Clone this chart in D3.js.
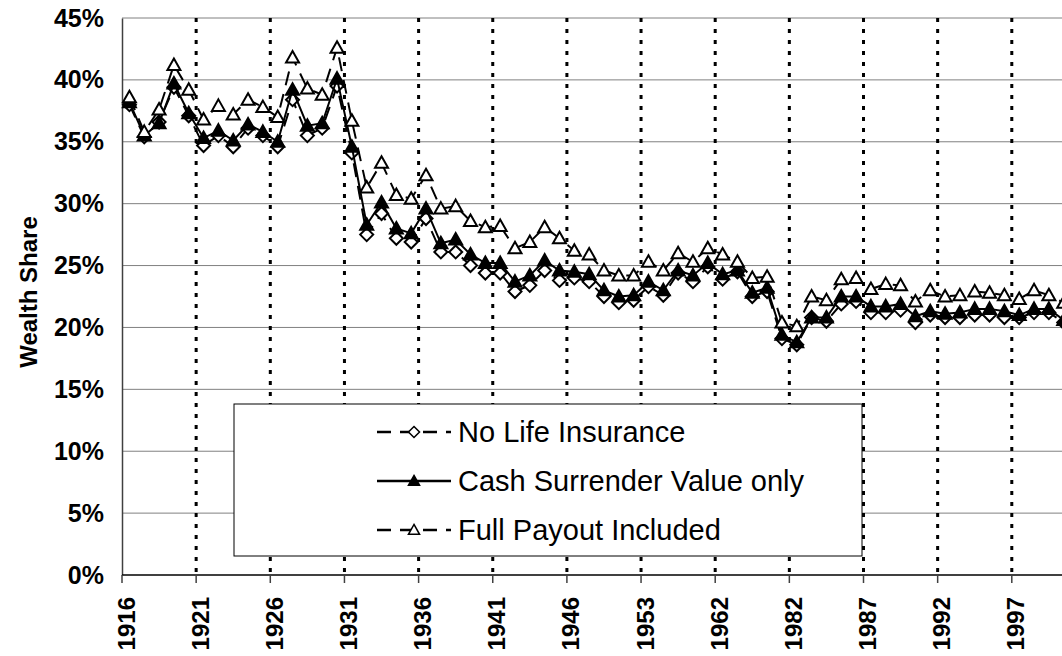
<!DOCTYPE html>
<html>
<head>
<meta charset="utf-8">
<script src="https://cdn.jsdelivr.net/npm/d3@7"></script>
<style>
  html, body { margin: 0; padding: 0; background: #fff; }
  svg { display: block; }
</style>
</head>
<body>
<svg id="chart"></svg>
<script>
// Categories (survey years; uneven spacing after 1945)
const years = [
    1916, 1917, 1918, 1919, 1920, 1921, 1922, 1923, 1924, 1925,
    1926, 1927, 1928, 1929, 1930, 1931, 1932, 1933, 1934, 1935,
    1936, 1937, 1938, 1939, 1940, 1941, 1942, 1943, 1944, 1945,
    1946, 1947, 1948, 1949, 1950, 1953, 1954, 1956, 1958, 1960,
    1962, 1965, 1969, 1972, 1976, 1982, 1983, 1984, 1985, 1986,
    1987, 1988, 1989, 1990, 1991, 1992, 1993, 1994, 1995, 1996,
    1997, 1998, 1999, 2000
];

// Wealth share (%)
const noLifeInsurance = [
    38.0, 35.4, 36.6, 39.4, 37.1, 34.7, 35.5, 34.6, 36.1, 35.5,
    34.6, 38.4, 35.5, 36.1, 39.5, 34.1, 27.5, 29.2, 27.2, 26.9,
    28.8, 26.1, 26.1, 25.0, 24.4, 24.4, 22.9, 23.4, 24.6, 23.8,
    24.0, 23.7, 22.5, 22.0, 22.2, 23.3, 22.6, 24.4, 23.7, 24.9,
    23.9, 24.5, 22.5, 22.9, 19.1, 18.6, 20.8, 20.5, 21.9, 22.1,
    21.2, 21.2, 21.4, 20.4, 21.0, 20.8, 20.8, 21.0, 21.0, 20.8,
    20.8, 21.2, 21.2, 20.4
];
const cashSurrender = [
    38.2, 35.5, 36.5, 39.7, 37.3, 35.3, 35.9, 35.1, 36.4, 35.8,
    35.0, 39.2, 36.3, 36.5, 40.1, 34.6, 28.3, 30.1, 28.0, 27.6,
    29.6, 26.8, 27.1, 25.9, 25.2, 25.2, 23.7, 24.2, 25.4, 24.6,
    24.5, 24.3, 23.0, 22.5, 22.6, 23.7, 23.0, 24.6, 24.2, 25.2,
    24.3, 24.6, 22.8, 23.2, 19.4, 18.8, 20.8, 20.8, 22.5, 22.5,
    21.7, 21.7, 21.9, 20.9, 21.3, 21.1, 21.2, 21.5, 21.5, 21.3,
    21.0, 21.5, 21.5, 20.6
];
const fullPayout = [
    38.6, 35.8, 37.6, 41.2, 39.2, 36.8, 37.9, 37.2, 38.4, 37.8,
    37.0, 41.8, 39.3, 38.8, 42.6, 36.7, 31.3, 33.3, 30.7, 30.4,
    32.3, 29.6, 29.8, 28.6, 28.1, 28.2, 26.4, 26.9, 28.1, 27.2,
    26.2, 25.9, 24.6, 24.2, 24.2, 25.3, 24.6, 26.0, 25.3, 26.4,
    25.9, 25.3, 24.0, 24.1, 20.4, 20.1, 22.5, 22.2, 23.9, 24.0,
    23.1, 23.5, 23.4, 22.1, 23.0, 22.5, 22.6, 22.9, 22.8, 22.6,
    22.3, 23.0, 22.6, 22.0
];

const yTicks = [0, 5, 10, 15, 20, 25, 30, 35, 40, 45];
const labelStep = 5;   // a label and a dotted divider every 5 categories

const seriesNames = ["No Life Insurance", "Cash Surrender Value only", "Full Payout Included"];

// Chart dimensions
const svgWidth = 1062;
const svgHeight = 656;
const plotLeft = 122;
const plotTop = 18;
const plotBottom = 575;
const bandStep = 14.83;

const svg = d3.select("#chart")
    .attr("width", svgWidth)
    .attr("height", svgHeight);

const x = d3.scaleBand()
    .domain(years)
    .range([plotLeft, plotLeft + years.length * bandStep])
    .padding(0);

const y = d3.scaleLinear()
    .domain([0, 45])
    .range([plotBottom, plotTop]);

const xc = d => x(d) + x.bandwidth() / 2;
const font = "'Liberation Sans', Arial, Helvetica, sans-serif";

// Horizontal grid lines
svg.append("g")
    .selectAll("line")
    .data(yTicks.filter(d => d > 0))
    .join("line")
    .attr("x1", plotLeft)
    .attr("x2", svgWidth)
    .attr("y1", d => y(d))
    .attr("y2", d => y(d))
    .attr("stroke", "#808080")
    .attr("stroke-width", 1);

// Category indices that carry a label / divider
const labelIdx = years.map((d, i) => i).filter(i => i % labelStep === 0);

// Vertical dotted dividers
svg.append("g")
    .selectAll("line")
    .data(labelIdx.filter(i => i > 0))
    .join("line")
    .attr("x1", i => x(years[i]))
    .attr("x2", i => x(years[i]))
    .attr("y1", plotTop)
    .attr("y2", plotBottom)
    .attr("stroke", "#000")
    .attr("stroke-width", 3)
    .attr("stroke-dasharray", "4,7");

// Y axis
const yAxis = svg.append("g")
    .attr("transform", `translate(${plotLeft},0)`)
    .call(d3.axisLeft(y)
        .tickValues(yTicks)
        .tickFormat(d => d + "%")
        .tickSize(0)
        .tickSizeOuter(0)
        .tickPadding(18));
yAxis.select(".domain").attr("stroke", "#404040").attr("stroke-width", 1.5);
yAxis.selectAll("text")
    .attr("font-family", font)
    .attr("font-size", 25)
    .attr("font-weight", "bold")
    .attr("fill", "#000");

// X axis line
svg.append("line")
    .attr("x1", plotLeft)
    .attr("x2", svgWidth)
    .attr("y1", plotBottom)
    .attr("y2", plotBottom)
    .attr("stroke", "#000")
    .attr("stroke-width", 1.5);

// X tick marks at category boundaries
svg.append("g")
    .selectAll("line")
    .data(labelIdx)
    .join("line")
    .attr("x1", i => x(years[i]))
    .attr("x2", i => x(years[i]))
    .attr("y1", plotBottom)
    .attr("y2", plotBottom + 8)
    .attr("stroke", "#404040")
    .attr("stroke-width", 1.5);

// X tick labels, rotated
svg.append("g")
    .selectAll("text")
    .data(labelIdx)
    .join("text")
    .attr("transform", i => `translate(${x(years[i]) + 12.5},597) rotate(-90)`)
    .attr("text-anchor", "end")
    .attr("font-family", font)
    .attr("font-size", 24)
    .attr("font-weight", "bold")
    .text(i => years[i]);

// Y axis title
svg.append("text")
    .attr("transform", `translate(37,292) rotate(-90)`)
    .attr("text-anchor", "middle")
    .attr("font-family", font)
    .attr("font-size", 24)
    .attr("font-weight", "bold")
    .text("Wealth Share");

// Marker shapes
const diamondPath = "M0,-6.5L6.5,0L0,6.5L-6.5,0Z";
const trianglePath = "M0,-6.5L6.5,5L-6.5,5Z";

const series = [
    { name: seriesNames[0], values: noLifeInsurance, dash: "14,9", marker: diamondPath, fill: "#fff" },
    { name: seriesNames[1], values: cashSurrender, dash: null, marker: trianglePath, fill: "#000" },
    { name: seriesNames[2], values: fullPayout, dash: "14,9", marker: trianglePath, fill: "#fff" }
];

const line = d3.line()
    .x((d, i) => xc(years[i]))
    .y(d => y(d));

series.forEach(s => {
    svg.append("path")
        .datum(s.values)
        .attr("fill", "none")
        .attr("stroke", "#000")
        .attr("stroke-width", 2)
        .attr("stroke-dasharray", s.dash)
        .attr("d", line);

    svg.append("g")
        .selectAll("path")
        .data(s.values)
        .join("path")
        .attr("transform", (d, i) => `translate(${xc(years[i])},${y(d)})`)
        .attr("d", s.marker)
        .attr("fill", s.fill)
        .attr("stroke", "#000")
        .attr("stroke-width", 2);
});

// Legend
const legend = svg.append("g");
legend.append("rect")
    .attr("x", 234)
    .attr("y", 404)
    .attr("width", 628)
    .attr("height", 152)
    .attr("fill", "#fff")
    .attr("stroke", "#000")
    .attr("stroke-width", 1);

const rowY = [432, 481, 530];
series.forEach((s, k) => {
    const ly = rowY[k];
    legend.append("line")
        .attr("x1", 377)
        .attr("x2", 451)
        .attr("y1", ly)
        .attr("y2", ly)
        .attr("stroke", "#000")
        .attr("stroke-width", 2.5)
        .attr("stroke-dasharray", s.dash);
    legend.append("path")
        .attr("transform", `translate(414,${ly}) scale(0.85)`)
        .attr("d", s.marker)
        .attr("fill", s.fill)
        .attr("stroke", "#000")
        .attr("stroke-width", 1.8);
    legend.append("text")
        .attr("x", 458)
        .attr("y", ly)
        .attr("dy", "0.35em")
        .attr("font-family", font)
        .attr("font-size", 29)
        .text(s.name);
});
</script>
</body>
</html>
